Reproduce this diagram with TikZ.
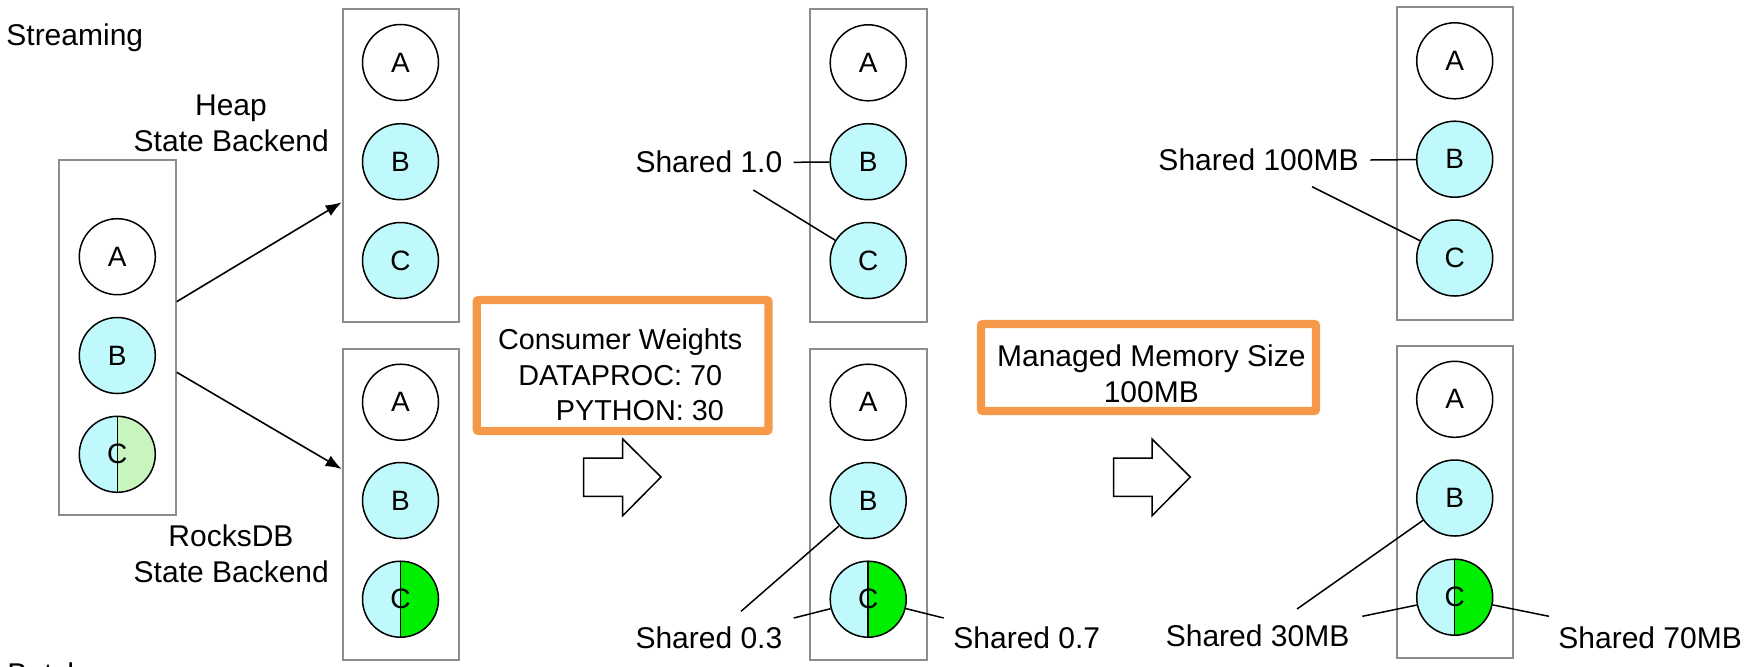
\documentclass[tikz,border=0pt]{standalone}
\usepackage{fontspec}
\setmainfont{Liberation Sans}
\usetikzlibrary{arrows.meta}
\definecolor{cyanfill}{RGB}{192,249,251}
\definecolor{palegreen}{RGB}{200,245,190}
\definecolor{brightgreen}{RGB}{0,238,0}
\definecolor{obrd}{RGB}{245,152,72}
\definecolor{gbrd}{RGB}{140,140,140}
\tikzset{
  gbox/.style={draw=gbrd, line width=1pt, rectangle, inner sep=0pt, minimum width=58.35pt},
  obox/.style={draw=obrd, line width=4.15pt, rectangle, rounded corners=1pt, inner sep=0pt},
  circ/.style={draw=black, line width=0.75pt, circle, inner sep=0pt, minimum size=38pt, font=\fontsize{14pt}{16pt}\selectfont},
  lbl/.style={inner sep=0pt, font=\fontsize{15pt}{18pt}\selectfont},
  slbl/.style={inner sep=0pt, font=\fontsize{14.4pt}{17pt}\selectfont},
  conn/.style={draw=black, line width=0.75pt},
  flow/.style={draw=black, line width=0.8pt, -{Latex[length=8pt,width=6pt]}},
  hollow/.style={draw=black, line width=0.75pt, fill=white, line join=miter},
}
\newcommand{\splitcirc}[4]{%
  \fill[cyanfill] (#2) ++(0pt,19pt) arc[start angle=90,end angle=270,radius=19pt] -- cycle;
  \fill[#4] (#2) ++(0pt,-19pt) arc[start angle=-90,end angle=90,radius=19pt] -- cycle;
  \draw[line width=0.75pt] (#2) ++(0pt,19pt) -- ++(0pt,-38pt);
  \node[circ] (#1) at (#2) {#3};
}
\begin{document}
\begin{tikzpicture}[x=0.5pt,y=-0.5pt]
\useasboundingbox (0,0) rectangle (1764,666);
\fill[white] (0,0) rectangle (1764,666);

% boxes
\node[gbox, minimum height=177.65pt] (lbox) at (117.35,337.65) {};
\node[gbox, minimum height=156.2pt] (hbox) at (401,165.5) {};
\node[gbox, minimum height=155.5pt] (rbox) at (401,504.2) {};
\node[gbox, minimum height=156.2pt] (mtbox) at (868.15,165.5) {};
\node[gbox, minimum height=155.8pt] (mbbox) at (868.15,504.5) {};
\node[gbox, minimum height=156.35pt] (rtbox) at (1455,163.65) {};
\node[gbox, minimum height=155.85pt] (rbbox) at (1455,502.15) {};

% left column
\node[circ] (lA) at (117.3,256.7) {A};
\node[circ, fill=cyanfill] (lB) at (117.3,355.5) {B};
\splitcirc{lC}{117.3,454.3}{C}{palegreen}

% heap
\node[circ] (hA) at (400.5,62.5) {A};
\node[circ, fill=cyanfill] (hB) at (400.5,161.7) {B};
\node[circ, fill=cyanfill] (hC) at (400.5,260.5) {C};

% rocksdb
\node[circ] (rA) at (400.5,402.2) {A};
\node[circ, fill=cyanfill] (rB) at (400.5,500.5) {B};
\splitcirc{rC}{400.5,599.2}{C}{brightgreen}

% middle top
\node[circ] (mtA) at (868.2,62.8) {A};
\node[circ, fill=cyanfill] (mtB) at (868.2,161.7) {B};
\node[circ, fill=cyanfill] (mtC) at (868.2,260.5) {C};

% middle bottom
\node[circ] (mbA) at (868.2,402.2) {A};
\node[circ, fill=cyanfill] (mbB) at (868.2,500.5) {B};
\splitcirc{mbC}{868.2,599.2}{C}{brightgreen}

% right top
\node[circ] (rtA) at (1454.7,60.8) {A};
\node[circ, fill=cyanfill] (rtB) at (1454.7,159.2) {B};
\node[circ, fill=cyanfill] (rtC) at (1454.7,258) {C};

% right bottom
\node[circ] (rbA) at (1454.7,399.3) {A};
\node[circ, fill=cyanfill] (rbB) at (1454.7,498) {B};
\splitcirc{rbC}{1454.7,597.2}{C}{brightgreen}

% texts
\node[lbl, anchor=base west] (tstream) at (6,45) {Streaming};
\node[lbl, anchor=base west] (tbatch) at (7,684.5) {Batch};
\node[lbl, anchor=base] (theap1) at (231,115) {Heap};
\node[lbl, anchor=base] (theap2) at (231.3,151.7) {State Backend};
\node[lbl, anchor=base] (trock1) at (231,546.3) {RocksDB};
\node[lbl, anchor=base] (trock2) at (231.3,582.3) {State Backend};

% flow arrows
\draw[flow] ([yshift=18pt]lbox.east) -- ([yshift=-18.4pt]hbox.west);
\draw[flow] ([yshift=-17.3pt]lbox.east) -- ([yshift=17.6pt]rbox.west);

% orange boxes
\node[obox, minimum width=145.85pt, minimum height=65.5pt] (cwbox) at (622.6,365.5) {};
\node[slbl, anchor=base] (cw1) at (620.2,349.7) {Consumer Weights};
\node[slbl, anchor=base] (cw2) at (620.2,385.7) {DATAPROC: 70};
\node[slbl, anchor=base east] (cw3) at (724.3,420.7) {PYTHON: 30};

\node[obox, minimum width=167.5pt, minimum height=43.5pt] (mmbox) at (1148.5,367.5) {};
\node[lbl, anchor=base] (mm1) at (1151.3,366.3) {Managed Memory Size};
\node[lbl, anchor=base] (mm2) at (1151.3,402) {100MB};

% hollow arrows
\draw[hollow] (583.7,458) -- (622.7,458) -- (622.7,439) -- (661,477) -- (622.7,515.7) -- (622.7,496.3) -- (583.7,496.3) -- cycle;
\draw[hollow] (1113.7,458) -- (1152,458) -- (1152,439) -- (1190.3,477) -- (1152,515.7) -- (1152,496.3) -- (1113.7,496.3) -- cycle;

% middle labels
\node[lbl, anchor=base east] (s10) at (782.7,172.7) {Shared 1.0};
\node[lbl, anchor=base east] (s03) at (782.7,648) {Shared 0.3};
\node[lbl, anchor=base west] (s07) at (953,648) {Shared 0.7};
\coordinate (s10a) at (793.7,162.3);
\coordinate (s10b) at (753.3,190);
\coordinate (s03a) at (741,611.3);
\coordinate (s03b) at (793.7,618);
\coordinate (s07a) at (943.7,618);
\draw[conn] (s10a) -- (mtB);
\draw[conn] (s10b) -- (mtC);
\draw[conn] (s03a) -- (mbB);
\draw[conn] (s03b) -- (mbC);
\draw[conn] (mbC) -- (s07a);

% right labels
\node[lbl, anchor=base east] (s100) at (1359,170.7) {Shared 100MB};
\node[lbl, anchor=base east] (s30) at (1349.7,646.3) {Shared 30MB};
\node[lbl, anchor=base west] (s70) at (1558,648) {Shared 70MB};
\coordinate (s100a) at (1370.3,160);
\coordinate (s100b) at (1312,186.7);
\coordinate (s30a) at (1297,609);
\coordinate (s30b) at (1362.3,616.3);
\coordinate (s70a) at (1549,616.3);
\draw[conn] (s100a) -- (rtB);
\draw[conn] (s100b) -- (rtC);
\draw[conn] (s30a) -- (rbB);
\draw[conn] (s30b) -- (rbC);
\draw[conn] (rbC) -- (s70a);
\end{tikzpicture}
\end{document}
